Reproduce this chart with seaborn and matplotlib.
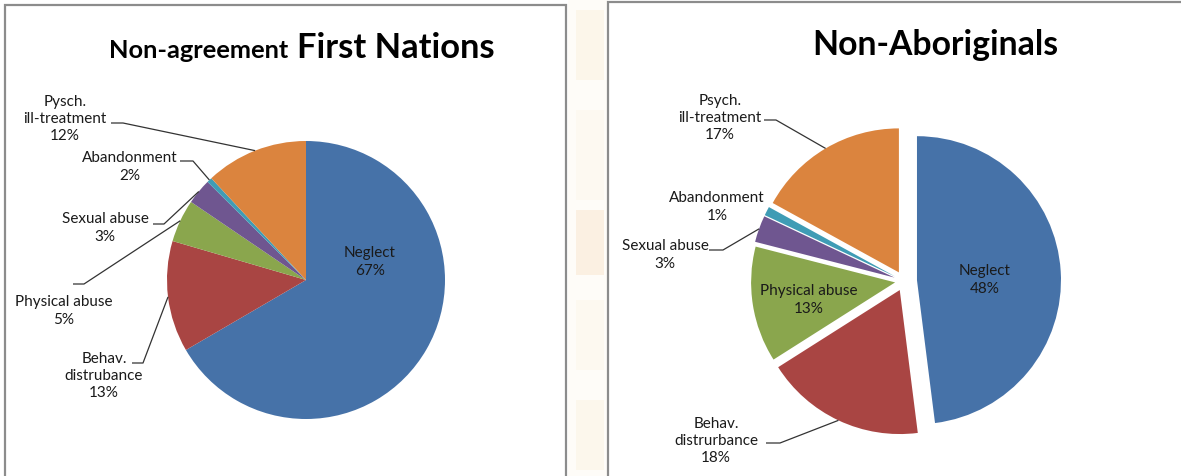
import numpy as np
import matplotlib
matplotlib.use("Agg")
import matplotlib.pyplot as plt
from matplotlib.patches import Rectangle
import seaborn as sns

sns.set_theme(style="white")
plt.rcParams["font.family"] = ["Lato", "DejaVu Sans"]

# ---- data (clockwise from 12 o'clock) ----
categories = ["Neglect", "Behav. disturbance", "Physical abuse",
              "Sexual abuse", "Abandonment", "Psych. ill-treatment"]

fn_values = [67, 13, 5, 3, 0.6, 12]
fn_labels = ["Neglect\n67%", "Behav.\ndistrubance\n13%", "Physical abuse\n5%",
             "Sexual abuse\n3%", "Abandonment\n2%", "Pysch.\nill-treatment\n12%"]

na_values = [48, 18, 13, 3, 1, 17]
na_labels = ["Neglect\n48%", "Behav.\ndistrurbance\n18%", "Physical abuse\n13%",
             "Sexual abuse\n3%", "Abandonment\n1%", "Psych.\nill-treatment\n17%"]

palette = sns.color_palette(["#4672a8", "#a94543", "#8aa64d",
                             "#6f5690", "#3f9cb5", "#db843e"])

W, H = 1181, 476


def Y(y):
    # image rows (from top) -> data units (from bottom)
    return H - y


fig = plt.figure(figsize=(W / 100, H / 100), dpi=100)
fig.patch.set_facecolor("white")
ax = fig.add_axes([0, 0, 1, 1])

# faded backdrop between the two panels
ax.add_patch(Rectangle((568, 0), 40, H, facecolor="#fefcf8", lw=0, zorder=0))
for y0, y1, c in [(10, 80, "#fcf6ea"), (110, 200, "#fdf9f1"), (210, 275, "#fbf0e2"),
                  (300, 370, "#fdf9f0"), (400, 470, "#fcf7ec")]:
    ax.add_patch(Rectangle((576, Y(y1)), 28, y1 - y0, facecolor=c, lw=0, zorder=0))

# panel frames
ax.add_patch(Rectangle((5, Y(490)), 561, 485, facecolor="white",
                       edgecolor="#8c8c8c", lw=1.6, zorder=1))
ax.add_patch(Rectangle((608, Y(490)), 600, 488, facecolor="white",
                       edgecolor="#8c8c8c", lw=1.6, zorder=1))

line_kw = dict(color="#333333", lw=0.9, zorder=4, solid_capstyle="butt")
text_kw = dict(fontsize=11, ha="center", va="center", linespacing=1.3,
               color="#1a1a1a", zorder=5)


def leader(wedge, pts):
    th = np.deg2rad((wedge.theta1 + wedge.theta2) / 2)
    cx, cy = wedge.center
    ex, ey = cx + wedge.r * np.cos(th), cy + wedge.r * np.sin(th)
    xs = [p[0] for p in pts] + [ex]
    ys = [Y(p[1]) for p in pts] + [ey]
    ax.plot(xs, ys, **line_kw)


def draw_pie(values, labels, center, radius, explode, layout):
    wedges, _ = ax.pie(values, colors=palette, startangle=90, counterclock=False,
                       center=(center[0], Y(center[1])), radius=radius,
                       explode=explode, wedgeprops=dict(linewidth=0, zorder=3))
    for w in wedges:
        w.set_zorder(3)
    for i, (pos, pts) in layout.items():
        ax.text(pos[0], Y(pos[1]), labels[i], **text_kw)
        if pts:
            leader(wedges[i], pts)


# ---- left panel ----
fn_layout = {
    0: ((370, 262), None),
    1: ((104, 376), [(132, 363), (143, 363)]),
    2: ((64, 311), [(73, 284), (84, 284)]),
    3: ((105, 228), [(153, 224), (164, 224)]),
    4: ((130, 167), [(180, 161), (193, 161)]),
    5: ((65, 119), [(111, 123), (123, 123)]),
}
draw_pie(fn_values, fn_labels, (306, 280), 139, [0] * 6, fn_layout)

# ---- right panel ----
na_layout = {
    0: ((985, 280), None),
    1: ((716, 441), [(766, 443), (780, 443)]),
    2: ((809, 300), None),
    3: ((665, 255), [(709, 250), (723, 250)]),
    4: ((717, 207), None),
    5: ((720, 118), [(764, 120), (776, 120)]),
}
draw_pie(na_values, na_labels, (904, 281), 144, [13, 10, 9, 10, 10, 10], na_layout)

# ---- titles ----
fig.canvas.draw()
r = fig.canvas.get_renderer()
t1 = ax.text(0, Y(58), "Non-agreement", fontsize=18.3, fontweight="bold",
             ha="left", va="baseline", color="black", zorder=5)
t2 = ax.text(0, Y(58), "First Nations", fontsize=24.8, fontweight="bold",
             ha="left", va="baseline", color="black", zorder=5)
w1 = t1.get_window_extent(r).width
w2 = t2.get_window_extent(r).width
gap = 9
x0 = 302 - (w1 + gap + w2) / 2
t1.set_x(x0)
t2.set_x(x0 + w1 + gap)

ax.text(935, Y(55), "Non-Aboriginals", fontsize=24.3, fontweight="bold",
        ha="center", va="baseline", color="black", zorder=5)

ax.set_xlim(0, W)
ax.set_ylim(0, H)
ax.set_aspect("auto")
ax.axis("off")

fig.savefig("out.png", dpi=100)
plt.close(fig)
